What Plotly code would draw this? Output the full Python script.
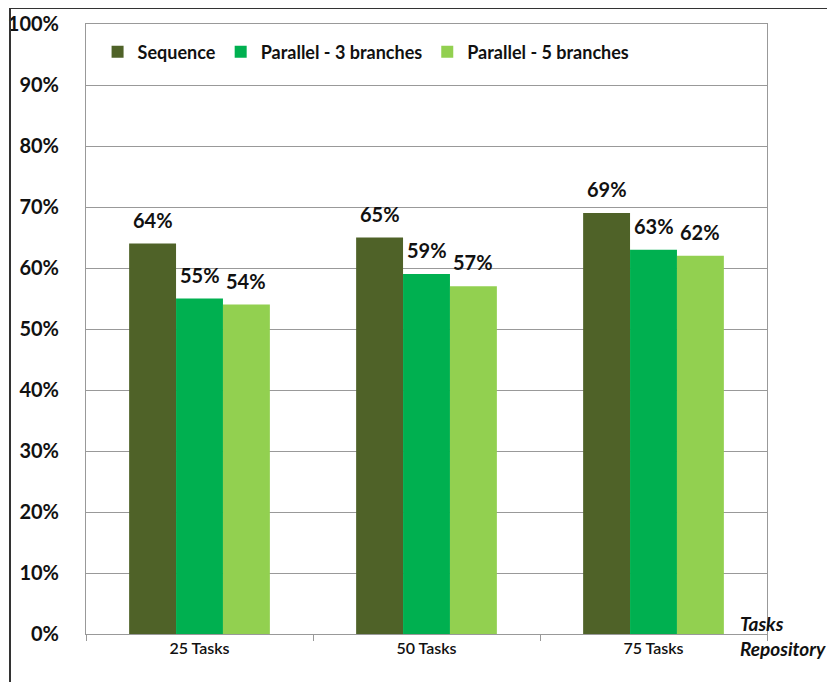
import plotly.graph_objects as go

# valores
categories = ["25 Tasks", "50 Tasks", "75 Tasks"]
sequence = [0.64, 0.65, 0.69]
parallel_3 = [0.55, 0.59, 0.63]
parallel_5 = [0.54, 0.57, 0.62]

series = [
    ("Sequence", sequence, "#4F6228"),
    ("Parallel - 3 branches", parallel_3, "#00B050"),
    ("Parallel - 5 branches", parallel_5, "#92D050"),
]

FONT = "Lato"
W, H = 835, 682
# el body del html tiene 8px de margen: se compensa aqui
MARGIN = dict(l=78, r=76, t=16, b=56)
BARGAP = 0.38

fig = go.Figure()
for name, vals, color in series:
    fig.add_trace(go.Bar(
        x=categories, y=vals, name=name,
        marker=dict(color=color, line=dict(width=0)),
    ))

# etiquetas de valor: anotaciones sobre cada barra (mas separacion que textposition)
plot_w = W - MARGIN["l"] - MARGIN["r"]
bar_px = plot_w / len(categories) * (1 - BARGAP) / len(series)
for j, (name, vals, color) in enumerate(series):
    for cat, v in zip(categories, vals):
        fig.add_annotation(
            x=cat, y=v, xref="x", yref="y", text=f"<b>{v:.0%}</b>",
            showarrow=False, yanchor="bottom", yshift=10,
            xshift=(j - (len(series) - 1) / 2) * bar_px,
            font=dict(family=FONT, size=20, color="#111111"),
        )

fig.update_layout(
    width=W, height=H,
    margin=MARGIN,
    paper_bgcolor="white", plot_bgcolor="white",
    barmode="group", bargap=BARGAP, bargroupgap=0,
    font=dict(family=FONT, color="#111111"),
    legend=dict(
        orientation="h", x=0.017, y=0.954, xanchor="left", yanchor="middle",
        font=dict(family=FONT, size=18, weight="bold"),
        bgcolor="rgba(0,0,0,0)", itemwidth=30, traceorder="normal",
    ),
    showlegend=True,
)

fig.update_yaxes(
    range=[0, 1], dtick=0.1, tickformat=".0%", automargin=False,
    showgrid=True, gridcolor="#999999", gridwidth=1,
    showline=True, linecolor="#999999", linewidth=1, mirror=True,
    tickfont=dict(family=FONT, size=20, weight="bold"),
    ticks="", ticklabelstandoff=22, zeroline=False,
)
fig.update_xaxes(
    automargin=False,
    showline=True, linecolor="#999999", linewidth=1, mirror=True,
    ticks="outside", tickson="boundaries", ticklen=6, tickcolor="#999999",
    tickfont=dict(family=FONT, size=16, weight=600, color="#111111"),
)

# titulo del eje x en cursiva, abajo a la derecha
fig.add_annotation(
    text="<i><b>Tasks<br>Repository</b></i>", xref="paper", yref="paper",
    x=0.958, y=0.040, xanchor="left", yanchor="top", showarrow=False,
    align="left", font=dict(family=FONT, size=19, color="#111111"),
)

# marco exterior
fig.add_shape(
    type="rect", xref="paper", yref="paper",
    x0=-0.1116, x1=1.2, y0=-0.2, y1=1.0262,
    line=dict(color="#333333", width=2), fillcolor="rgba(0,0,0,0)",
    layer="above",
)

fig.write_html("out.html")
